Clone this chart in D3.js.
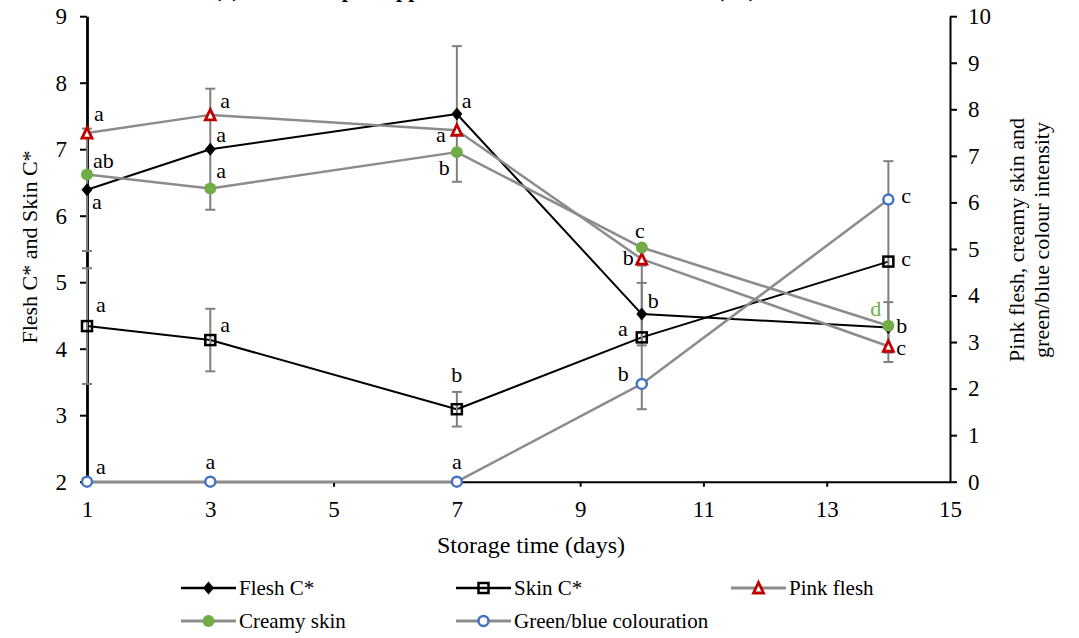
<!DOCTYPE html>
<html>
<head>
<meta charset="utf-8">
<script src="https://cdn.jsdelivr.net/npm/d3@7"></script>
<style>
  html, body { margin: 0; padding: 0; background: #fff; }
  svg { display: block; font-family: "Liberation Serif", "Times New Roman", serif; }
</style>
</head>
<body>
<div id="chart"></div>
<script>
// storage days
const days = [1, 3, 7, 10, 14];

// primary axis (Flesh C*, Skin C*)
const fleshC = [6.39, 7.00, 7.53, 4.52, 4.32];
const fleshErr = [0.92, 0.91, 1.02, 0.47, 0.38];
const skinC = [4.34, 4.13, 3.09, 4.17, 5.31];
const skinErr = [0.87, 0.47, 0.26, 1.08, 1.51];

// secondary axis (intensity scores)
const pinkFlesh = [7.49, 7.88, 7.55, 4.78, 2.91];
const creamySkin = [6.60, 6.30, 7.08, 5.03, 3.35];
const greenBlue = [0, 0, 0, 2.10, 6.06];

// significance letters
const fleshLetters = ['a', 'a', 'a', 'b', 'b'];
const skinLetters = ['a', 'a', 'b', 'a', 'c'];
const pinkLetters = ['a', 'a', 'a', 'b', 'c'];
const creamyLetters = ['ab', 'a', 'b', 'c', 'd'];
const greenBlueLetters = ['a', 'a', 'a', 'b', 'c'];

const xTicks = [1, 3, 5, 7, 9, 11, 13, 15];
const leftTicks = [2, 3, 4, 5, 6, 7, 8, 9];
const rightTicks = [0, 1, 2, 3, 4, 5, 6, 7, 8, 9, 10];

const width = 1079;
const height = 638;
const GREY = '#8c8c8c';

const svg = d3.select('#chart').append('svg')
  .attr('width', width)
  .attr('height', height);

const x = d3.scaleLinear().domain([1, 15]).range([87, 950]);
const yL = d3.scaleLinear().domain([2, 9]).range([481.7, 16.2]);
const yR = d3.scaleLinear().domain([0, 10]).range([481.7, 16.2]);

// title, cut off at the top edge (only descenders show)
svg.append('text')
  .attr('x', 214).attr('y', -3)
  .attr('font-size', 22).attr('font-weight', 'bold')
  .text('(a) Flesh and peel appearance of fruit stored at 20 °C (°C)');

// label offsets [dx, dy, anchor] per point, kept apart from the data
const fleshPos = [[5, 19, 'start'], [6, -7, 'start'], [5, -6, 'start'], [6, -6, 'start'], [8, 6, 'start']];
const skinPos = [[9, -14, 'start'], [10, -8, 'start'], [0, -27, 'middle'], [-14, -1, 'end'], [13, 4, 'start']];
const pinkPos = [[7, -12, 'start'], [10, -7, 'start'], [-11, 12, 'end'], [-8, 6, 'end'], [8, 9, 'start']];
const creamyPos = [[6, -6, 'start'], [6, -10, 'start'], [-7, 23, 'end'], [-2, -10, 'middle'], [-7, -10, 'end']];
const greenBluePos = [[9, -8, 'start'], [0, -13, 'middle'], [0, -13, 'middle'], [-13, -3, 'end'], [13, 3, 'start']];

const series = [
  { name: 'Flesh C*', values: fleshC, err: fleshErr, y: yL, line: '#000', lw: 2, marker: 'diamond', letters: fleshLetters, pos: fleshPos },
  { name: 'Skin C*', values: skinC, err: skinErr, y: yL, line: '#000', lw: 2, marker: 'square', letters: skinLetters, pos: skinPos },
  { name: 'Pink flesh', values: pinkFlesh, y: yR, line: GREY, lw: 2.5, marker: 'triangle', letters: pinkLetters, pos: pinkPos },
  { name: 'Creamy skin', values: creamySkin, y: yR, line: GREY, lw: 2.5, marker: 'dot', letters: creamyLetters, pos: creamyPos, letterColor: ['#000', '#000', '#000', '#000', '#70ad47'] },
  { name: 'Green/blue colouration', values: greenBlue, y: yR, line: GREY, lw: 2.5, marker: 'ring', letters: greenBlueLetters, pos: greenBluePos },
];

function drawMarker(g, type) {
  if (type === 'diamond') {
    g.append('path').attr('d', 'M0,-6.5L5.5,0L0,6.5L-5.5,0Z').attr('fill', '#000');
  } else if (type === 'square') {
    g.append('rect').attr('x', -5).attr('y', -5).attr('width', 10).attr('height', 10)
      .attr('fill', 'none').attr('stroke', '#000').attr('stroke-width', 2.5);
  } else if (type === 'triangle') {
    g.append('path').attr('d', 'M0,-5.5L5,5L-5,5Z')
      .attr('fill', '#fff').attr('stroke', '#c00000').attr('stroke-width', 2.8).attr('stroke-linejoin', 'miter');
  } else if (type === 'dot') {
    g.append('circle').attr('r', 6).attr('fill', '#70ad47');
  } else if (type === 'ring') {
    g.append('circle').attr('r', 5).attr('fill', '#fff').attr('stroke', '#4472c4').attr('stroke-width', 2.5);
  }
}

const plot = svg.append('g');

// lines
series.forEach(s => {
  const line = d3.line().x((d, i) => x(days[i])).y(d => s.y(d));
  plot.append('path')
    .datum(s.values)
    .attr('d', line)
    .attr('fill', 'none')
    .attr('stroke', s.line)
    .attr('stroke-width', s.lw)
    .attr('stroke-linejoin', 'round');
});

// error bars on the primary series
series.filter(s => s.err).forEach(s => {
  const eb = plot.append('g').attr('stroke', '#7f7f7f').attr('stroke-width', 2);
  s.values.forEach((v, i) => {
    const cx = x(days[i]);
    const lo = s.y(v - s.err[i]);
    const hi = s.y(v + s.err[i]);
    eb.append('line').attr('x1', cx).attr('x2', cx).attr('y1', lo).attr('y2', hi);
    eb.append('line').attr('x1', cx - 5).attr('x2', cx + 5).attr('y1', lo).attr('y2', lo);
    eb.append('line').attr('x1', cx - 5).attr('x2', cx + 5).attr('y1', hi).attr('y2', hi);
  });
});

// axes
const fontSize = 23;
const axisX = svg.append('g')
  .attr('transform', `translate(0,${yL(2)})`)
  .call(d3.axisBottom(x).tickValues(xTicks).tickSize(5).tickSizeOuter(0).tickPadding(14).tickFormat(d3.format('d')));
const axisL = svg.append('g')
  .attr('transform', `translate(${x(1)},0)`)
  .call(d3.axisLeft(yL).tickValues(leftTicks).tickSize(7).tickSizeOuter(0).tickPadding(13).tickFormat(d3.format('d')));
const axisR = svg.append('g')
  .attr('transform', `translate(${x(15)},0)`)
  .call(d3.axisRight(yR).tickValues(rightTicks).tickSize(7).tickSizeOuter(0).tickPadding(11).tickFormat(d3.format('d')));

[axisX, axisL, axisR].forEach(a => {
  a.selectAll('text').attr('font-size', fontSize).attr('fill', '#000')
    .attr('font-family', '"Liberation Serif", "Times New Roman", serif');
  a.selectAll('line').attr('stroke', '#000').attr('stroke-width', 2);
  a.select('.domain').attr('stroke', '#000').attr('stroke-width', 2);
});
axisL.select('.domain').attr('stroke-width', 2.8);
axisX.selectAll('.tick').filter(d => d === 1 || d === 3 || d === 7 || d === 15).select('line').remove();

// markers
series.forEach(s => {
  s.values.forEach((v, i) => {
    const g = plot.append('g').attr('transform', `translate(${x(days[i])},${s.y(v)})`);
    drawMarker(g, s.marker);
  });
});
// keep markers above the axes
plot.raise();

// letters
series.forEach(s => {
  s.values.forEach((v, i) => {
    const [dx, dy, anchor] = s.pos[i];
    svg.append('text')
      .attr('x', x(days[i]) + dx)
      .attr('y', s.y(v) + dy)
      .attr('text-anchor', anchor)
      .attr('font-size', 22)
      .attr('fill', s.letterColor ? s.letterColor[i] : '#000')
      .text(s.letters[i]);
  });
});

// axis titles
svg.append('text')
  .attr('x', 531).attr('y', 553)
  .attr('text-anchor', 'middle').attr('font-size', 24)
  .text('Storage time (days)');

svg.append('text')
  .attr('transform', 'translate(37,247) rotate(-90)')
  .attr('text-anchor', 'middle').attr('font-size', 22)
  .text('Flesh C* and Skin C*');

const rTitle = svg.append('text')
  .attr('transform', 'translate(1024,240) rotate(-90)')
  .attr('text-anchor', 'middle').attr('font-size', 22);
rTitle.append('tspan').attr('x', 0).attr('dy', 0).text('Pink flesh, creamy skin and');
rTitle.append('tspan').attr('x', 0).attr('dy', 25).text('green/blue colour intensity');

// legend
const legendItems = [
  { s: series[0], x: 181, y: 588 },
  { s: series[1], x: 456, y: 588 },
  { s: series[2], x: 731, y: 588 },
  { s: series[3], x: 181, y: 621 },
  { s: series[4], x: 456, y: 621 },
];
const legend = svg.append('g');
legendItems.forEach(item => {
  const g = legend.append('g').attr('transform', `translate(${item.x},${item.y})`);
  g.append('line').attr('x1', 0).attr('x2', 55).attr('y1', 0).attr('y2', 0)
    .attr('stroke', item.s.line).attr('stroke-width', item.s.line === GREY ? 3 : 2.5);
  const m = g.append('g').attr('transform', 'translate(27.5,0)');
  drawMarker(m, item.s.marker);
  g.append('text').attr('x', 58).attr('y', 7)
    .attr('font-size', 21)
    .text(item.s.name);
});
</script>
</body>
</html>
